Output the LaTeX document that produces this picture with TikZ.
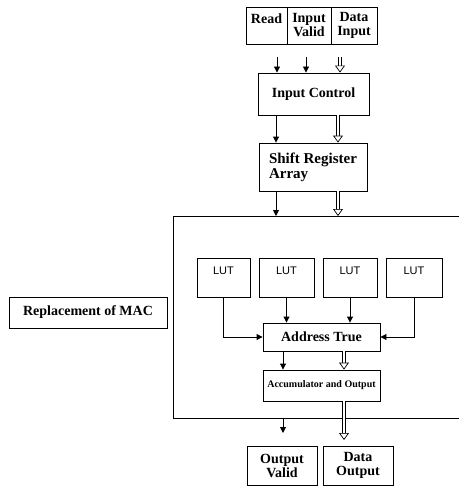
\documentclass[tikz,border=0pt]{standalone}
\usepackage{fontspec}
\setmainfont{Liberation Serif}
\newfontfamily\lutfont{Liberation Sans}
\usetikzlibrary{arrows.meta}

\begin{document}
\begin{tikzpicture}[x=1pt,y=-1pt,
  blk/.style={draw, line width=0.9pt, inner sep=1pt, align=center,
    font=\fontsize{14}{14}\selectfont\bfseries},
  lut/.style={draw, line width=0.9pt, inner sep=1pt, align=center,
    minimum height=39pt, font=\fontsize{11}{13}\selectfont\lutfont},
  sig/.style={line width=0.9pt, -{Triangle[length=6pt,width=6pt]}},
  bus/.style={draw=white, line width=2.6pt,
    -{Triangle[open, color=black, fill=white, line width=0.7pt, length=7pt, width=10pt]},
    preaction={draw=black, line width=4.2pt, arrows=-, shorten >=5pt}}]
  \useasboundingbox (0,0) rectangle (458,487);

  % inputs
  \node[blk, minimum width=41pt, minimum height=37pt] (read) at (266.5,25.5) {Read\\~};
  \node[blk, minimum width=44pt, minimum height=37pt] (valid) at (309,25.5) {Input\\Valid};
  \node[blk, minimum width=46pt, minimum height=37pt] (datain) at (354,25.5) {Data\\Input};

  \node[blk, minimum width=111pt, minimum height=42pt] (inctrl) at (313.5,94) {Input Control};
  \node[blk, minimum width=108pt, minimum height=48pt, align=left,
    font=\fontsize{15}{15}\selectfont\bfseries] (shreg) at (313,167) {Shift Register\\Array};

  \coordinate (rdA) at (277,57);
  \coordinate (vlA) at (306,57);
  \coordinate (dtA) at (340,57);
  \draw[sig] (rdA) -- (inctrl.north -| rdA);
  \draw[sig] (vlA) -- (inctrl.north -| vlA);
  \draw[bus] (dtA) -- (inctrl.north -| dtA);

  % big block, open on the right
  \coordinate (bbTL) at (173,216);
  \coordinate (bbTR) at (460,216);
  \coordinate (bbBL) at (173,418);
  \coordinate (bbBR) at (460,418);
  \draw[line width=0.9pt] (bbTR) -- (bbTL) -- (bbBL) -- (bbBR);

  \coordinate (cL) at (276,0);
  \coordinate (cR) at (338,0);
  \draw[sig] (inctrl.south -| cL) -- (shreg.north -| cL);
  \draw[bus] (inctrl.south -| cR) -- (shreg.north -| cR);
  \draw[sig] (shreg.south -| cL) -- (bbTL -| cL);
  \draw[bus] (shreg.south -| cR) -- (bbTL -| cR);

  \node[blk, minimum width=158pt, minimum height=31pt] (mac) at (88,312.5) {Replacement of MAC};

  % lookup tables
  \node[lut, minimum width=53pt] (l1) at (223.5,277.5) {LUT\\~};
  \node[lut, minimum width=55pt] (l2) at (286.5,277.5) {LUT\\~};
  \node[lut, minimum width=54pt] (l3) at (350,277.5) {LUT\\~};
  \node[lut, minimum width=56pt] (l4) at (414,277.5) {LUT\\~};

  \node[blk, minimum width=117pt, minimum height=28pt] (addr) at (321.5,337) {Address True};
  \node[blk, minimum width=117pt, minimum height=31pt,
    font=\fontsize{10}{12}\selectfont\bfseries] (accum) at (321.5,385.5) {Accumulator and Output};

  \draw[sig] (l1.south) |- (addr.west);
  \draw[sig] (l2.south) -- (addr.north -| l2.south);
  \draw[sig] (l3.south) -- (addr.north -| l3.south);
  \draw[sig] (l4.south) |- (addr.east);

  \coordinate (vL) at (283,0);
  \coordinate (vR) at (344,0);
  \draw[sig] (addr.south -| vL) -- (accum.north -| vL);
  \draw[bus] (addr.south -| vR) -- (accum.north -| vR);

  % outputs
  \node[blk, minimum width=70pt, minimum height=39pt] (outvalid) at (282,465.5) {Output\\Valid};
  \node[blk, minimum width=70pt, minimum height=39pt] (dataout) at (358,465.5) {Data\\Output};

  \coordinate (ovEnd) at (283,433);
  \coordinate (doEnd) at (344,440);
  \draw[sig] (bbBL -| vL) -- (ovEnd);
  \draw[bus] (accum.south -| vR) -- (doEnd);
\end{tikzpicture}
\end{document}
